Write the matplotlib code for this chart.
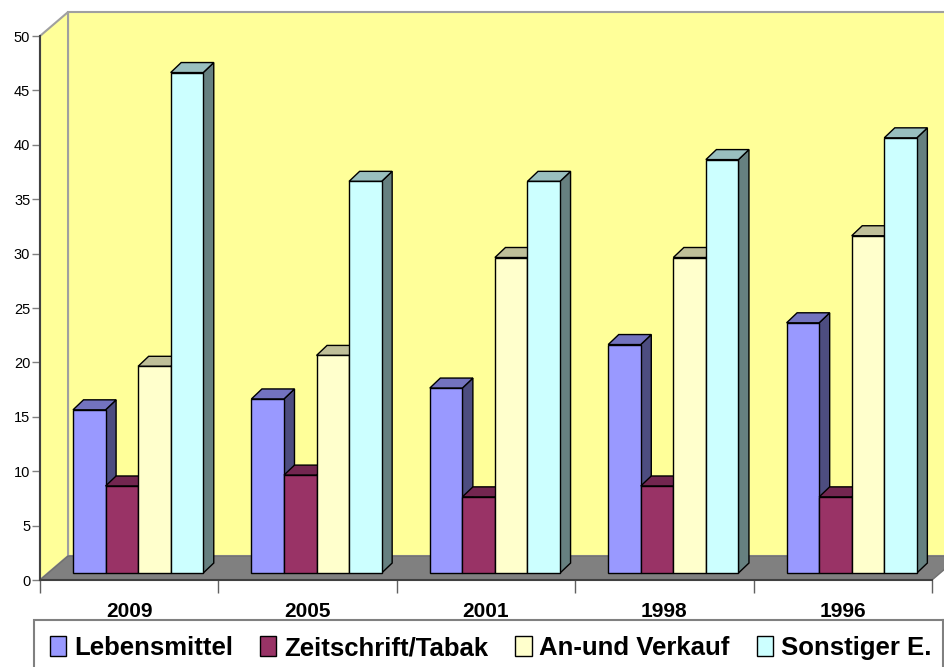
import matplotlib
matplotlib.use('Agg')
from matplotlib import pyplot as plt
from matplotlib.lines import Line2D
from matplotlib.patches import Patch, Polygon

plt.rcParams['font.family'] = ['Liberation Sans', 'DejaVu Sans']

# Data
years = ['2009', '2005', '2001', '1998', '1996']
series_names = ['Lebensmittel', 'Zeitschrift/Tabak', 'An-und Verkauf', 'Sonstiger E.']
lebensmittel = [15, 16, 17, 21, 23]
zeitschrift = [8, 9, 7, 8, 7]
an_verkauf = [19, 20, 29, 29, 31]
sonstiger = [46, 36, 36, 38, 40]
series_values = [lebensmittel, zeitschrift, an_verkauf, sonstiger]

front_colors = ['#9999FF', '#993366', '#FFFFCC', '#CCFFFF']
top_colors = ['#7373BF', '#732650', '#BFBF99', '#99BFBF']
side_colors = ['#4D4D80', '#4D1A33', '#808066', '#668080']

# 3d look: offsets in axis units
wall_dx, wall_dy = 0.157, 2.2
bar_dx, bar_dy = 0.059, 0.92
front_dx, front_dy = 0.04, 0.64
bar_w = 0.1825
group_gap = 0.145


def poly(ax, pts, color, edge='black', lw=1.0, z=3):
    ax.add_patch(Polygon(pts, closed=True, facecolor=color, edgecolor=edge,
                         linewidth=lw, clip_on=False, zorder=z, joinstyle='miter'))


def draw_bar(ax, x, value, idx, z):
    x0 = x + front_dx
    y0 = front_dy
    x1 = x0 + bar_w
    y1 = y0 + value
    poly(ax, [(x1, y0), (x1 + bar_dx, y0 + bar_dy), (x1 + bar_dx, y1 + bar_dy), (x1, y1)],
         side_colors[idx], z=z)
    poly(ax, [(x0, y1), (x1, y1), (x1 + bar_dx, y1 + bar_dy), (x0 + bar_dx, y1 + bar_dy)],
         top_colors[idx], z=z)
    poly(ax, [(x0, y0), (x1, y0), (x1, y1), (x0, y1)], front_colors[idx], z=z)


fig = plt.figure(figsize=(9.44, 6.67), dpi=100)
ax = fig.add_axes([40 / 944, (667 - 580) / 667, 892 / 944, 544 / 667])
ax.set_xlim(0, 5)
ax.set_ylim(0, 50)
ax.patch.set_visible(False)

# walls and floor
poly(ax, [(wall_dx, wall_dy), (5.3, wall_dy), (5.3, 50 + wall_dy), (wall_dx, 50 + wall_dy)],
     '#FFFF99', edge='#A0A0A0', lw=1.5, z=1)
poly(ax, [(0, 0), (wall_dx, wall_dy), (wall_dx, 50 + wall_dy), (0, 50)],
     '#FFFF99', edge='#A0A0A0', lw=1.5, z=1)
poly(ax, [(0, 0), (5, 0), (5 + wall_dx, wall_dy), (wall_dx, wall_dy)],
     '#808080', edge='#707070', lw=1.0, z=2)

# bars
for g in range(len(years)):
    for s, values in enumerate(series_values):
        draw_bar(ax, g + group_gap + s * bar_w, values[g], s, 3 + g + s * 0.1)

# axes
for name in ['top', 'right']:
    ax.spines[name].set_visible(False)
for name in ['left', 'bottom']:
    ax.spines[name].set_color('#404040')
    ax.spines[name].set_linewidth(1.5)
    ax.spines[name].set_zorder(20)

ax.set_yticks(range(0, 51, 5))
ax.tick_params(axis='y', length=6, width=1, color='#808080', labelsize=10.5, pad=1)
ax.set_xticks(range(0, 6))
ax.set_xticklabels([])
ax.tick_params(axis='x', length=9, width=1, color='#606060')
ax.set_xticks([g + 0.5 for g in range(5)], minor=True)
ax.set_xticklabels(years, minor=True, fontsize=15, fontweight='bold')
ax.tick_params(axis='x', which='minor', length=0, pad=16)

handles = [Patch(facecolor=c, edgecolor='black', linewidth=1) for c in front_colors]
leg = fig.legend(handles, series_names, ncol=4, loc='lower left',
                 bbox_to_anchor=(34 / 944, -0.0135), borderaxespad=0,
                 prop={'size': 18.5, 'weight': 'bold'},
                 frameon=True, fancybox=False, edgecolor='#808080', framealpha=1,
                 handlelength=0.63, handleheight=0.8, handletextpad=0.31,
                 columnspacing=1.05, borderpad=0.62)
leg.get_frame().set_linewidth(1.5)

# legend frame runs past the picture, its right edge sits just inside
fig.add_artist(Line2D([943 / 944, 943 / 944], [0, 47 / 667], color='#808080', lw=1.5, zorder=10))

fig.savefig('out.png', dpi=100)
